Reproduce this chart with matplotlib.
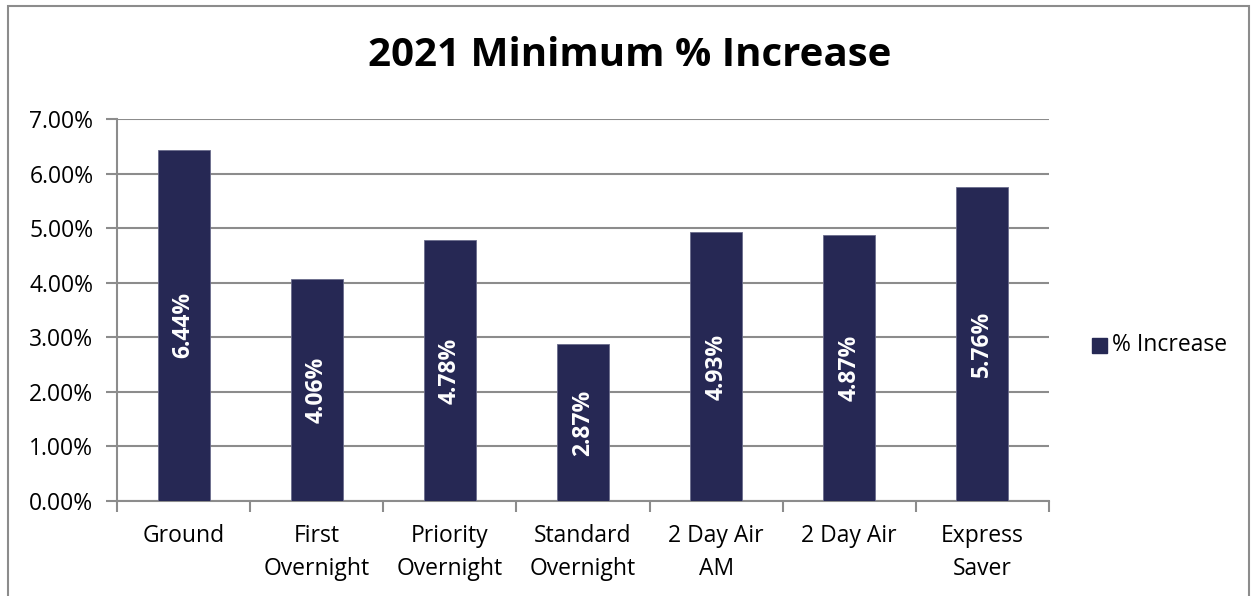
import matplotlib.pyplot as plt
import numpy as np
from matplotlib.patches import Rectangle

# data
categories = ["Ground", "First\nOvernight", "Priority\nOvernight", "Standard\nOvernight",
              "2 Day Air\nAM", "2 Day Air", "Express\nSaver"]
increase = [6.44, 4.06, 4.78, 2.87, 4.93, 4.87, 5.76]
yticks = [0, 1, 2, 3, 4, 5, 6, 7]

bar_color = "#262854"
grid_color = "#8c8c8c"

plt.rcParams["font.family"] = ["Open Sans", "DejaVu Sans"]

W, H = 1252, 596
fig = plt.figure(figsize=(W / 100, H / 100), dpi=100)

# outer chart border (cut at bottom in reference)
fig.add_artist(Rectangle((8 / W, -0.05), (1249 - 8) / W, 1.05 - 6 / H,
                         transform=fig.transFigure, fill=False,
                         edgecolor="#8c8c8c", linewidth=1.5))

ax = fig.add_axes([117 / W, 1 - 501 / H, (1049 - 117) / W, (501 - 119) / H])
x = np.arange(len(categories))
ax.bar(x, increase, width=0.39, color=bar_color, edgecolor="#6a6c8c",
       linewidth=0.6, zorder=3)

ax.set_xlim(-0.5, len(categories) - 0.5)
ax.set_ylim(0, 7)
ax.set_yticks(yticks)
ax.set_yticklabels([f"{v:.2f}%" for v in yticks], fontsize=16.5)
ax.yaxis.grid(True, color=grid_color, linewidth=1.5, zorder=0)
ax.tick_params(axis="y", length=8, width=1.5, color=grid_color, pad=9)

# category labels centred, ticks at boundaries
ax.set_xticks(np.arange(len(categories) + 1) - 0.5)
ax.set_xticklabels([])
ax.tick_params(axis="x", length=8, width=1.5, color=grid_color)
for xi, lab in zip(x, categories):
    ax.text(xi, -0.43, lab, ha="center", va="top", fontsize=16.5,
            linespacing=1.5)

for s in ["top", "right"]:
    ax.spines[s].set_visible(False)
for s in ["left", "bottom"]:
    ax.spines[s].set_color(grid_color)
    ax.spines[s].set_linewidth(1.5)

for xi, v in zip(x, increase):
    ax.text(xi, v / 2, f"{v:.2f}%", ha="center", va="center", rotation=90,
            color="white", fontsize=16.5, fontweight="bold", zorder=4)

fig.text(630 / W, 1 - 55 / H, "2021 Minimum % Increase", ha="center", va="center",
         fontsize=29, fontweight="bold")

# legend
fig.add_artist(Rectangle((1092 / W, 1 - 353 / H), 15 / W, 15 / H,
                         transform=fig.transFigure, color=bar_color))
fig.text(1112 / W, 1 - 345 / H, "% Increase", ha="left", va="center", fontsize=16.5)

fig.savefig("out.png", dpi=100)
